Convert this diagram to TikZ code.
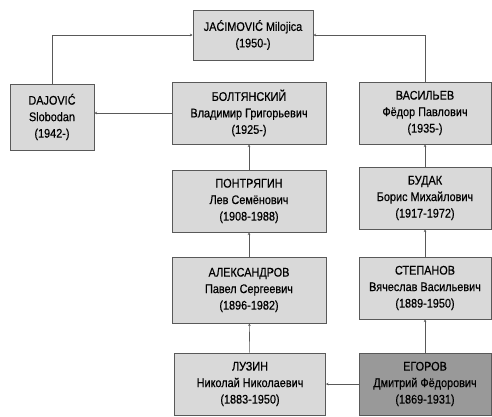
\documentclass[tikz,border=0pt]{standalone}
\usepackage{fontspec}
\newfontfamily\narrowfont{Liberation Sans}[FakeStretch=0.87, FakeBold=0.5]
\usetikzlibrary{arrows.meta}
\usetikzlibrary{positioning}
\definecolor{mfill}{rgb}{0.85, 0.85, 0.85}
\definecolor{mdark}{rgb}{0.6, 0.6, 0.6}
\definecolor{mline}{rgb}{0.35, 0.35, 0.35}
\tikzset{person/.style = {draw = mline, fill = mfill, line width = 1pt, align = center,
    font = \narrowfont\fontsize{12.5}{16.5}\selectfont, inner sep = 0,
    minimum width = 154, minimum height = 62}}
\tikzset{link/.style = {draw = mline, line width = 0.6pt, -{Stealth[length=2.5pt, width=2.5pt]}}}

\begin{document}
\begin{tikzpicture}[x = 1pt, y = -1pt]
    \useasboundingbox (0, 0) rectangle (492, 416);

    \node [person, minimum width = 120, minimum height = 50] (jac) at (253, 35)
      {JAĆIMOVIĆ Milojica\\(1950-)};
    \node [person, minimum width = 84, minimum height = 66] (daj) at (52, 117)
      {DAJOVIĆ\\Slobodan\\(1942-)};

    \node [person] (bol) at (249, 113) {БОЛТЯНСКИЙ\\Владимир Григорьевич\\(1925-)};
    \node [person] (pon) at (249, 201) {ПОНТРЯГИН\\Лев Семёнович\\(1908-1988)};
    \node [person, minimum height = 66] (ale) at (249, 290) {АЛЕКСАНДРОВ\\Павел Сергеевич\\(1896-1982)};
    \node [person, minimum width = 151] (luz) at (250, 384) {ЛУЗИН\\Николай Николаевич\\(1883-1950)};

    \node [person, minimum width = 132] (vas) at (425, 113) {ВАСИЛЬЕВ\\Фёдор Павлович\\(1935-)};
    \node [person, minimum width = 132] (bud) at (425, 198) {БУДАК\\Борис Михайлович\\(1917-1972)};
    \node [person, minimum width = 132] (ste) at (425, 288) {СТЕПАНОВ\\Вячеслав Васильевич\\(1889-1950)};
    \node [person, minimum width = 132, fill = mdark] (ego) at (425, 384) {ЕГОРОВ\\Дмитрий Фёдорович\\(1869-1931)};

    \draw [link] (daj.north) |- (jac.west);
    \draw [link] (vas.north) |- (jac.east);
    \draw [link] (bol.west) -- (bol.west -| daj.east);
    \draw [link] (pon) -- (bol);
    \draw [link] (ale) -- (pon);
    \draw [link] (luz) -- (ale);
    \draw [link] (ego) -- (luz);
    \draw [link] (bud) -- (vas);
    \draw [link] (ste) -- (bud);
    \draw [link] (ego) -- (ste);
  \end{tikzpicture}
\end{document}
